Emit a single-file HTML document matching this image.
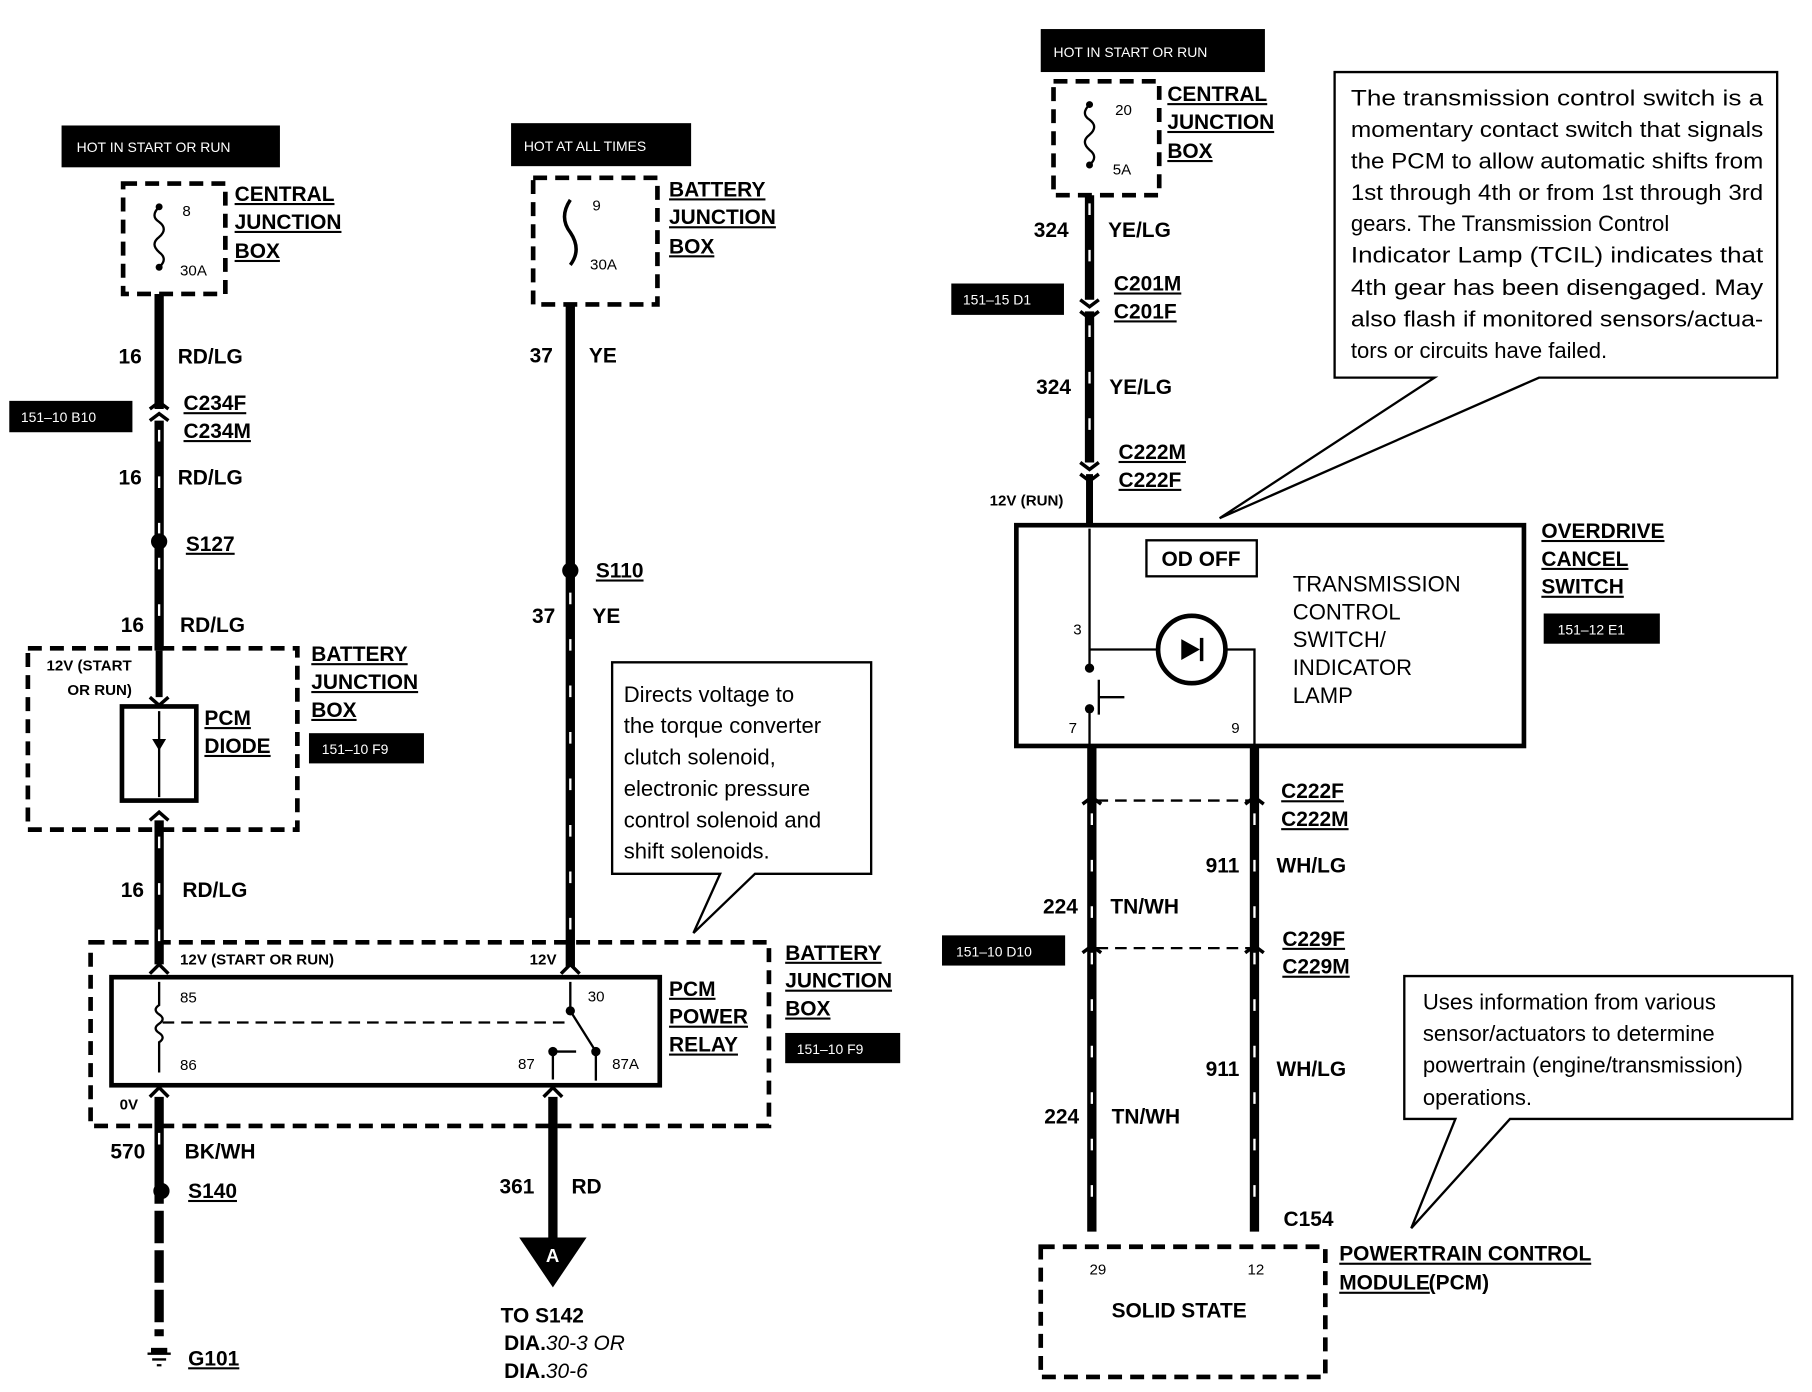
<!DOCTYPE html>
<html><head><meta charset="utf-8"><style>
html,body{margin:0;padding:0;background:#fff}
svg{display:block}
text{font-family:"Liberation Sans",sans-serif;fill:#000}
.b{font-weight:bold;font-size:18px}
.s{font-size:13px}
.w{fill:#fff;font-size:12px}
.c{font-size:19px}
</style></head><body>
<svg width="1812" height="1392" viewBox="0 0 1560 1198" preserveAspectRatio="none" xmlns="http://www.w3.org/2000/svg">
<g fill="none" stroke="#000">
<!-- LEFT -->
<rect x="106" y="158" width="88" height="95" stroke-width="4" stroke-dasharray="12 7"/>
<path d="M137 178 q-8 8 0 13 q8 6 0 13 q-8 6 0 13 q8 6 0 13" stroke-width="2"/>
<line x1="137" y1="253" x2="137" y2="352" stroke-width="8"/>
<path d="M129 352 l8 -6 l8 6 M129 362 l8 -6 l8 6" stroke-width="3"/>
<line x1="137" y1="362" x2="137" y2="560" stroke-width="8"/>
<line x1="137" y1="560" x2="137" y2="600" stroke-width="6"/>
<path d="M129 600 l8 7 l8 -7 M129 706 l8 -7 l8 7" stroke-width="3"/>
<rect x="24" y="558" width="232" height="156" stroke-width="4" stroke-dasharray="12 7"/>
<rect x="105" y="608" width="64" height="81" stroke-width="4"/>
<line x1="137" y1="612" x2="137" y2="686" stroke-width="2"/>
<line x1="137" y1="706" x2="137" y2="830" stroke-width="8"/>
<rect x="78" y="811" width="584" height="158" stroke-width="4" stroke-dasharray="12 7"/>
<rect x="96" y="841" width="472" height="93" stroke-width="4"/>
<path d="M129 838 l8 -8 l8 8 M129 944 l8 -8 l8 8" stroke-width="3"/>
<path d="M137 845 v20 q-6 4 0 8 q6 4 0 8 q-6 4 0 8 q6 4 0 8 v26" stroke-width="2"/>
<line x1="140" y1="880" x2="492" y2="880" stroke-width="2" stroke-dasharray="10 6"/>
<line x1="137" y1="944" x2="137" y2="1150" stroke-width="8"/>
<!-- relay right -->
<line x1="491" y1="262" x2="491" y2="832" stroke-width="8"/>
<path d="M483 838 l8 -8 l8 8" stroke-width="3"/>
<path d="M491 845 v25 l22 35 v25 M513 905 v25 M476 905 v24 M476 905 h20" stroke-width="2"/>
<line x1="476" y1="944" x2="476" y2="1066" stroke-width="8"/>
<path d="M468 944 l8 -8 l8 8" stroke-width="3"/>
<rect x="459" y="153" width="107" height="109" stroke-width="4" stroke-dasharray="12 7"/>
<path d="M491 172 q-10 15 0 28 q10 15 0 28" stroke-width="3"/>
<!-- ground -->
<path d="M127 1165 h20 M131 1170 h12 M135 1175 h4" stroke-width="2"/>
<!-- callout 1 -->
<path d="M527 570 H750 V752 H650 L597 803 L620 752 H527 Z" fill="#fff" stroke-width="2"/>
<!-- RIGHT -->
<rect x="907" y="70" width="91" height="98" stroke-width="4" stroke-dasharray="12 7"/>
<path d="M938 90 q-8 8 0 13 q8 6 0 13 q-8 6 0 13 q8 6 0 13" stroke-width="2"/>
<line x1="938" y1="168" x2="938" y2="258" stroke-width="8"/>
<path d="M930 258 l8 6 l8 -6 M930 268 l8 6 l8 -6" stroke-width="3"/>
<line x1="938" y1="268" x2="938" y2="398" stroke-width="8"/>
<path d="M930 398 l8 6 l8 -6 M930 408 l8 6 l8 -6" stroke-width="3"/>
<line x1="938" y1="408" x2="938" y2="452" stroke-width="6"/>
<rect x="875" y="452" width="437" height="190" stroke-width="4"/>
<rect x="987" y="465" width="95" height="31" stroke-width="2"/>
<path d="M938 455 v120 M938 610 v32 M938 559 h59 M1055 559 h25 v83 M946 585 v30 M946 600 h22" stroke-width="2"/>
<circle cx="1026" cy="559" r="29" stroke-width="4"/>
<line x1="940" y1="642" x2="940" y2="1060" stroke-width="8"/>
<line x1="1080" y1="642" x2="1080" y2="1060" stroke-width="8"/>
<path d="M932 692 l8 -6 l8 6 M932 820 l8 -6 l8 6 M1072 692 l8 -6 l8 6 M1072 820 l8 -6 l8 6" stroke-width="3"/>
<line x1="944" y1="689" x2="1076" y2="689" stroke-width="2" stroke-dasharray="10 6"/>
<line x1="944" y1="816" x2="1076" y2="816" stroke-width="2" stroke-dasharray="10 6"/>
<rect x="896" y="1073" width="245" height="112" stroke-width="4" stroke-dasharray="12 7"/>
<path d="M1149 62 H1530 V325 H1325 L1050 446 L1235 325 H1149 Z" fill="#fff" stroke-width="2"/>
<path d="M1209 840 H1543 V963 H1300 L1215 1057 L1253 963 H1209 Z" fill="#fff" stroke-width="2"/>
</g>
<!-- wire ticks -->
<g stroke="#fff" stroke-width="2" stroke-dasharray="10 30">
<line x1="137" y1="370" x2="137" y2="460"/><line x1="137" y1="480" x2="137" y2="555"/>
<line x1="137" y1="720" x2="137" y2="810"/><line x1="137" y1="975" x2="137" y2="1015"/>
<line x1="491" y1="510" x2="491" y2="810"/>
<line x1="938" y1="175" x2="938" y2="250"/><line x1="938" y1="280" x2="938" y2="390"/>
<line x1="940" y1="700" x2="940" y2="1055"/><line x1="1080" y1="700" x2="1080" y2="1055"/>
</g>
<g stroke="#fff" stroke-width="9" stroke-dasharray="6 28"><line x1="137" y1="1036" x2="137" y2="1150"/></g>
<g fill="#000">
<circle cx="137" cy="178" r="3"/><circle cx="137" cy="230" r="3"/>
<circle cx="938" cy="90" r="3"/><circle cx="938" cy="142" r="3"/>
<circle cx="137" cy="466" r="7"/><circle cx="491" cy="491" r="7"/><circle cx="139" cy="1025" r="7"/>
<circle cx="938" cy="575" r="4"/><circle cx="938" cy="610" r="4"/>
<circle cx="491" cy="870" r="4"/><circle cx="513" cy="905" r="4"/><circle cx="476" cy="905" r="4"/>
<path d="M1017 550 v18 l16 -9 z"/><rect x="1033" y="549" width="3" height="20"/>
<path d="M131 636 h12 l-6 10 z"/>
<path d="M447 1065 H505 L476 1108 Z"/>
<rect x="130" y="1160" width="14" height="5"/>
<rect x="53" y="108" width="188" height="36"/><rect x="440" y="106" width="155" height="37"/>
<rect x="896" y="25" width="193" height="37"/>
<rect x="8" y="345" width="106" height="27"/><rect x="266" y="631" width="99" height="26"/>
<rect x="676" y="889" width="99" height="26"/><rect x="819" y="244" width="97" height="27"/>
<rect x="1329" y="528" width="100" height="26"/><rect x="811" y="805" width="106" height="26"/>
</g>
<text class="w" x="66" y="131">HOT IN START OR RUN</text>
<text class="w" x="451" y="130">HOT AT ALL TIMES</text>
<text class="w" x="907" y="49">HOT IN START OR RUN</text>
<text class="w" x="18" y="363">151–10 B10</text>
<text class="w" x="277" y="649">151–10 F9</text>
<text class="w" x="686" y="907">151–10 F9</text>
<text class="w" x="829" y="262">151–15 D1</text>
<text class="w" x="1341" y="546">151–12 E1</text>
<text class="w" x="823" y="823">151–10 D10</text>
<text x="470" y="1086" fill="#fff" style="fill:#fff;font-weight:bold;font-size:16px">A</text>
<g class="s">
<text x="157" y="186">8</text><text x="155" y="237">30A</text>
<text x="510" y="181">9</text><text x="508" y="232">30A</text>
<text x="960" y="99">20</text><text x="958" y="150">5A</text>
<text x="155" y="863">85</text><text x="155" y="921">86</text><text x="506" y="862">30</text>
<text x="446" y="920">87</text><text x="527" y="920">87A</text>
<text x="924" y="546">3</text><text x="920" y="631">7</text><text x="1060" y="631">9</text>
<text x="938" y="1097">29</text><text x="1074" y="1097">12</text>
<text x="40" y="577" font-weight="bold">12V (START</text><text x="58" y="598" font-weight="bold">OR RUN)</text>
<text x="155" y="830" font-weight="bold">12V (START OR RUN)</text><text x="456" y="830" font-weight="bold">12V</text>
<text x="103" y="955" font-weight="bold">0V</text><text x="852" y="435" font-weight="bold">12V (RUN)</text>
</g>
<g class="b" text-decoration="underline">
<text x="202" y="173">CENTRAL</text><text x="202" y="197">JUNCTION</text><text x="202" y="222">BOX</text>
<text x="576" y="169">BATTERY</text><text x="576" y="193">JUNCTION</text><text x="576" y="218">BOX</text>
<text x="158" y="353">C234F</text><text x="158" y="377">C234M</text>
<text x="160" y="474">S127</text>
<text x="176" y="624">PCM</text><text x="176" y="648">DIODE</text>
<text x="268" y="569">BATTERY</text><text x="268" y="593">JUNCTION</text><text x="268" y="617">BOX</text>
<text x="513" y="497">S110</text>
<text x="576" y="857">PCM</text><text x="576" y="881">POWER</text><text x="576" y="905">RELAY</text>
<text x="676" y="826">BATTERY</text><text x="676" y="850">JUNCTION</text><text x="676" y="874">BOX</text>
<text x="162" y="1031">S140</text><text x="162" y="1175">G101</text>
<text x="1005" y="87">CENTRAL</text><text x="1005" y="111">JUNCTION</text><text x="1005" y="136">BOX</text>
<text x="959" y="250">C201M</text><text x="959" y="274">C201F</text>
<text x="963" y="395">C222M</text><text x="963" y="419">C222F</text>
<text x="1327" y="463">OVERDRIVE</text><text x="1327" y="487">CANCEL</text><text x="1327" y="511">SWITCH</text>
<text x="1103" y="687">C222F</text><text x="1103" y="711">C222M</text>
<text x="1104" y="814">C229F</text><text x="1104" y="838">C229M</text>
<text x="1153" y="1085">POWERTRAIN CONTROL</text><text x="1153" y="1110">MODULE</text>
</g>
<g class="b">
<text x="102" y="313">16</text><text x="153" y="313">RD/LG</text>
<text x="102" y="417">16</text><text x="153" y="417">RD/LG</text>
<text x="104" y="544">16</text><text x="155" y="544">RD/LG</text>
<text x="104" y="772">16</text><text x="157" y="772">RD/LG</text>
<text x="95" y="997">570</text><text x="159" y="997">BK/WH</text>
<text x="456" y="312">37</text><text x="507" y="312">YE</text>
<text x="458" y="536">37</text><text x="510" y="536">YE</text>
<text x="430" y="1027">361</text><text x="492" y="1027">RD</text>
<text x="431" y="1138">TO S142</text>
<text x="434" y="1162">DIA.<tspan font-weight="normal" font-style="italic">30-3 OR</tspan></text>
<text x="434" y="1186">DIA.<tspan font-weight="normal" font-style="italic">30-6</tspan></text>
<text x="890" y="204">324</text><text x="954" y="204">YE/LG</text>
<text x="892" y="339">324</text><text x="955" y="339">YE/LG</text>
<text x="1000" y="487">OD OFF</text>
<text x="1038" y="751">911</text><text x="1099" y="751">WH/LG</text>
<text x="898" y="786">224</text><text x="956" y="786">TN/WH</text>
<text x="1038" y="926">911</text><text x="1099" y="926">WH/LG</text>
<text x="899" y="967">224</text><text x="957" y="967">TN/WH</text>
<text x="1105" y="1055">C154</text>
<text x="957" y="1134">SOLID STATE</text>
<text x="1230" y="1110">(PCM)</text>
</g>
<g class="c" font-size="18">
<text x="1113" y="509">TRANSMISSION</text><text x="1113" y="533">CONTROL</text><text x="1113" y="557">SWITCH/</text><text x="1113" y="581">INDICATOR</text><text x="1113" y="605">LAMP</text>
</g>
<g class="c">
<text x="537" y="604">Directs voltage to</text><text x="537" y="631">the torque converter</text><text x="537" y="658">clutch solenoid,</text><text x="537" y="685">electronic pressure</text><text x="537" y="712">control solenoid and</text><text x="537" y="739">shift solenoids.</text>
<text x="1163" y="91" textLength="355" lengthAdjust="spacingAndGlyphs">The transmission control switch is a</text>
<text x="1163" y="118" textLength="355" lengthAdjust="spacingAndGlyphs">momentary contact switch that signals</text>
<text x="1163" y="145" textLength="355" lengthAdjust="spacingAndGlyphs">the PCM to allow automatic shifts from</text>
<text x="1163" y="172" textLength="355" lengthAdjust="spacingAndGlyphs">1st through 4th or from 1st through 3rd</text>
<text x="1163" y="199">gears.  The Transmission Control</text>
<text x="1163" y="226" textLength="355" lengthAdjust="spacingAndGlyphs">Indicator Lamp (TCIL) indicates that</text>
<text x="1163" y="254" textLength="355" lengthAdjust="spacingAndGlyphs">4th gear has been disengaged.  May</text>
<text x="1163" y="281" textLength="355" lengthAdjust="spacingAndGlyphs">also flash if monitored sensors/actua-</text>
<text x="1163" y="308">tors or circuits have failed.</text>
<text x="1225" y="869">Uses information from various</text><text x="1225" y="896">sensor/actuators to determine</text><text x="1225" y="923">powertrain (engine/transmission)</text><text x="1225" y="951">operations.</text>
</g>
</svg>
</body></html>
